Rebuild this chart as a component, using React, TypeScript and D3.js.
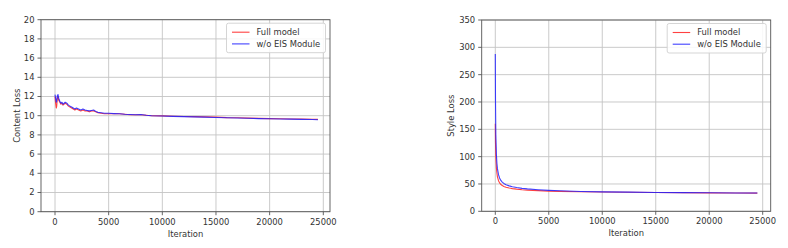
import React, { useEffect, useRef } from 'react';
import * as d3 from 'd3';

// content loss (left panel)
const contentIter = [0, 60, 120, 160, 220, 280, 350, 450, 550, 650, 750, 850, 950, 1100, 1250, 1400, 1550, 1700, 1850, 2000, 2200, 2400, 2600, 2800, 3000, 3200, 3400, 3600, 3800, 4000, 4300, 4600, 5000, 5500, 6000, 6500, 7000, 7500, 8000, 8500, 9000, 10000, 11000, 12000, 13000, 14000, 15000, 16000, 17000, 18000, 19000, 20000, 21000, 22000, 23000, 24000, 24500];
const contentFull = [12.0, 11.3, 10.8, 11.0, 11.9, 12.0, 11.6, 11.4, 11.2, 11.3, 11.1, 11.2, 11.3, 11.2, 11.0, 10.9, 10.8, 10.7, 10.6, 10.7, 10.6, 10.5, 10.6, 10.5, 10.5, 10.4, 10.5, 10.5, 10.4, 10.3, 10.25, 10.2, 10.2, 10.2, 10.2, 10.15, 10.1, 10.1, 10.1, 10.05, 10.0, 9.98, 9.95, 9.92, 9.9, 9.88, 9.85, 9.8, 9.78, 9.75, 9.72, 9.7, 9.68, 9.66, 9.65, 9.63, 9.62];
const contentNoEis = [12.2, 11.8, 11.4, 11.5, 12.1, 12.2, 11.8, 11.5, 11.3, 11.4, 11.2, 11.3, 11.4, 11.3, 11.1, 11.0, 10.9, 10.8, 10.7, 10.8, 10.7, 10.6, 10.7, 10.6, 10.55, 10.5, 10.55, 10.6, 10.45, 10.35, 10.3, 10.25, 10.25, 10.22, 10.2, 10.15, 10.12, 10.1, 10.12, 10.05, 10.0, 9.97, 9.93, 9.9, 9.88, 9.85, 9.82, 9.78, 9.76, 9.73, 9.7, 9.68, 9.66, 9.64, 9.62, 9.6, 9.58];

// style loss (right panel)
const styleIter = [0, 20, 50, 100, 150, 200, 300, 400, 500, 650, 800, 1000, 1300, 1600, 2000, 2500, 3000, 4000, 5000, 6000, 8000, 10000, 12500, 15000, 17500, 20000, 22500, 24500];
const styleFull = [160, 125, 100, 80, 70, 63, 56, 52, 49.5, 47, 45.5, 44, 42.5, 41.5, 40.5, 39.5, 38.8, 37.8, 37.0, 36.5, 35.8, 35.3, 34.8, 34.4, 34.1, 33.8, 33.5, 33.3];
const styleNoEis = [288, 200, 140, 105, 88, 78, 67, 61, 57, 53.5, 51, 48.5, 46.5, 45, 43.5, 42, 41, 39.5, 38.3, 37.5, 36.3, 35.6, 35.0, 34.5, 34.2, 33.9, 33.6, 33.4];

const xTicks = [0, 5000, 10000, 15000, 20000, 25000];
const contentTicks = [0, 2, 4, 6, 8, 10, 12, 14, 16, 18, 20];
const styleTicks = [0, 50, 100, 150, 200, 250, 300, 350];
const seriesNames = ['Full model', 'w/o EIS Module'];
const seriesColors = ['#ff2020', '#2020ff'];

const FONT = 'DejaVu Sans, sans-serif';
const FS = 8.4;

type Panel = {
    left: number; right: number; top: number; bottom: number;
    x0: number; x25k: number;
    iter: number[]; series: number[][];
    yMax: number; yTicks: number[]; yLabel: string; yLabelX: number;
};

const panels: Panel[] = [
    { left: 41, right: 330, top: 19.7, bottom: 211.7, x0: 55, x25k: 323.3,
      iter: contentIter, series: [contentFull, contentNoEis],
      yMax: 20, yTicks: contentTicks, yLabel: 'Content Loss', yLabelX: 17 },
    { left: 481.7, right: 770.7, top: 20, bottom: 211.3, x0: 495.3, x25k: 762.7,
      iter: styleIter, series: [styleFull, styleNoEis],
      yMax: 350, yTicks: styleTicks, yLabel: 'Style Loss', yLabelX: 451.3 }
];

export default function App() {
    const svgRef = useRef<SVGSVGElement>(null);

    useEffect(() => {
        const svg = d3.select(svgRef.current);
        svg.selectAll('*').remove();

        panels.forEach((p) => {
            const x = d3.scaleLinear().domain([0, 25000]).range([p.x0, p.x25k]);
            const y = d3.scaleLinear().domain([0, p.yMax]).range([p.bottom, p.top]);
            const g = svg.append('g');

            // grid
            xTicks.forEach((t) => {
                g.append('line').attr('x1', x(t)).attr('x2', x(t)).attr('y1', p.top).attr('y2', p.bottom)
                    .attr('stroke', '#c4c4c4').attr('stroke-width', 0.9);
            });
            p.yTicks.forEach((t) => {
                g.append('line').attr('x1', p.left).attr('x2', p.right).attr('y1', y(t)).attr('y2', y(t))
                    .attr('stroke', '#c4c4c4').attr('stroke-width', 0.9);
            });

            // lines
            const line = d3.line<number>()
                .x((_, i) => x(p.iter[i]))
                .y((d) => y(d));
            p.series.forEach((s, i) => {
                g.append('path').datum(s).attr('d', line).attr('fill', 'none')
                    .attr('stroke', seriesColors[i]).attr('stroke-width', 1.1)
                    .attr('stroke-opacity', 0.85).attr('stroke-linejoin', 'round');
            });

            // frame
            g.append('rect').attr('x', p.left).attr('y', p.top)
                .attr('width', p.right - p.left).attr('height', p.bottom - p.top)
                .attr('fill', 'none').attr('stroke', '#555').attr('stroke-width', 0.9);

            // x ticks
            xTicks.forEach((t) => {
                g.append('line').attr('x1', x(t)).attr('x2', x(t)).attr('y1', p.bottom).attr('y2', p.bottom + 3.5)
                    .attr('stroke', '#555').attr('stroke-width', 0.9);
                g.append('text').attr('x', x(t)).attr('y', p.bottom + 13)
                    .attr('text-anchor', 'middle').attr('font-family', FONT).attr('font-size', FS)
                    .attr('fill', '#333').text(t);
            });
            // y ticks
            p.yTicks.forEach((t) => {
                g.append('line').attr('x1', p.left - 3.5).attr('x2', p.left).attr('y1', y(t)).attr('y2', y(t))
                    .attr('stroke', '#555').attr('stroke-width', 0.9);
                g.append('text').attr('x', p.left - 6.5).attr('y', y(t)).attr('dy', '0.35em')
                    .attr('text-anchor', 'end').attr('font-family', FONT).attr('font-size', FS)
                    .attr('fill', '#333').text(t);
            });

            // axis labels
            g.append('text').attr('x', (p.left + p.right) / 2).attr('y', p.bottom + 25)
                .attr('text-anchor', 'middle').attr('font-family', FONT).attr('font-size', FS)
                .attr('fill', '#333').text('Iteration');
            g.append('text')
                .attr('transform', `translate(${p.yLabelX},${(p.top + p.bottom) / 2}) rotate(-90)`)
                .attr('dy', '0.35em').attr('text-anchor', 'middle').attr('font-family', FONT)
                .attr('font-size', FS).attr('fill', '#333').text(p.yLabel);

            // legend
            const lx = p.right - 103.5;
            const ly = p.top + 3.5;
            g.append('rect').attr('x', lx).attr('y', ly).attr('width', 99).attr('height', 29.5)
                .attr('rx', 2).attr('fill', '#fff').attr('fill-opacity', 0.85)
                .attr('stroke', '#d0d0d0').attr('stroke-width', 0.9);
            seriesNames.forEach((name, i) => {
                const yy = ly + 9 + i * 11.7;
                g.append('line').attr('x1', lx + 5.5).attr('x2', lx + 23).attr('y1', yy).attr('y2', yy)
                    .attr('stroke', seriesColors[i]).attr('stroke-width', 1.1).attr('stroke-opacity', 0.85);
                g.append('text').attr('x', lx + 30).attr('y', yy).attr('dy', '0.35em')
                    .attr('font-family', FONT).attr('font-size', FS).attr('fill', '#333').text(name);
            });
        });
    }, []);

    return (
        <svg ref={svgRef} width={788} height={248}
            style={{ position: 'absolute', left: 0, top: 0, background: '#fff' }} />
    );
}
